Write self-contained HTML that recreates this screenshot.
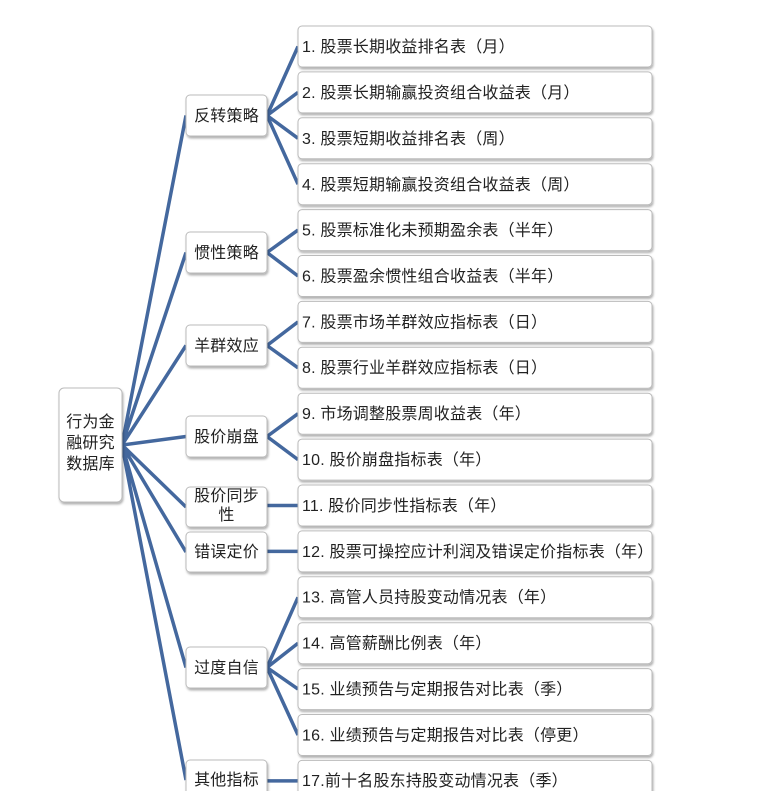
<!DOCTYPE html>
<html><head><meta charset="utf-8"><style>
html,body{margin:0;padding:0;background:#fff;width:760px;height:791px;overflow:hidden}
svg text{font-family:"Liberation Sans","Noto Sans CJK SC",sans-serif;font-size:16px;fill:#222;letter-spacing:0.2px}
</style></head><body>
<svg width="760" height="791" viewBox="0 0 760 791" xmlns="http://www.w3.org/2000/svg">
<defs><filter id="s" x="-10%" y="-10%" width="130%" height="140%"><feDropShadow dx="1" dy="2" stdDeviation="1" flood-color="#000" flood-opacity="0.3"/></filter></defs>
<g stroke="#44689e" stroke-width="3.5" fill="none">
<path d="M122 445L186 115.5M122 445L186 252.5M122 445L186 345.5M122 445L186 436.5M122 445L186 507M122 445L186 552M122 445L186 667.5M122 445L186 780"/>
<path d="M267 115.5L298 46.5M267 115.5L298 92.4M267 115.5L298 138.3M267 115.5L298 184.2"/>
<path d="M267 252.5L298 230.1M267 252.5L298 276"/>
<path d="M267 345.5L298 321.9M267 345.5L298 367.8"/>
<path d="M267 436.5L298 413.7M267 436.5L298 459.6"/>
<path d="M267 505.5L298 505.5M267 551.4L298 551.4"/>
<path d="M267 667.5L298 597.3M267 667.5L298 643.2M267 667.5L298 689.1M267 667.5L298 735"/>
<path d="M267 780.9L298 780.9"/>
</g>
<g fill="#fff" stroke="#bbb" stroke-width="1" filter="url(#s)">
<rect x="59" y="388" width="63" height="114" rx="5"/>
<rect x="186" y="95" width="81" height="41" rx="4"/>
<rect x="186" y="232" width="81" height="41" rx="4"/>
<rect x="186" y="325" width="81" height="41" rx="4"/>
<rect x="186" y="416" width="81" height="41" rx="4"/>
<rect x="186" y="487" width="81" height="40" rx="4"/>
<rect x="186" y="532" width="81" height="40" rx="4"/>
<rect x="186" y="647" width="81" height="41" rx="4"/>
<rect x="186" y="760" width="81" height="40" rx="4"/>
<rect x="298" y="26" width="354" height="41" rx="4"/>
<rect x="298" y="71.9" width="354" height="41" rx="4"/>
<rect x="298" y="117.8" width="354" height="41" rx="4"/>
<rect x="298" y="163.7" width="354" height="41" rx="4"/>
<rect x="298" y="209.6" width="354" height="41" rx="4"/>
<rect x="298" y="255.5" width="354" height="41" rx="4"/>
<rect x="298" y="301.4" width="354" height="41" rx="4"/>
<rect x="298" y="347.3" width="354" height="41" rx="4"/>
<rect x="298" y="393.2" width="354" height="41" rx="4"/>
<rect x="298" y="439.1" width="354" height="41" rx="4"/>
<rect x="298" y="485" width="354" height="41" rx="4"/>
<rect x="298" y="530.9" width="354" height="41" rx="4"/>
<rect x="298" y="576.8" width="354" height="41" rx="4"/>
<rect x="298" y="622.7" width="354" height="41" rx="4"/>
<rect x="298" y="668.6" width="354" height="41" rx="4"/>
<rect x="298" y="714.5" width="354" height="41" rx="4"/>
<rect x="298" y="760.4" width="354" height="41" rx="4"/>
</g>
<g text-anchor="middle">
<text x="90.5" y="427">行为金</text><text x="90.5" y="448">融研究</text><text x="90.5" y="469">数据库</text>
<text x="226.5" y="121">反转策略</text>
<text x="226.5" y="258">惯性策略</text>
<text x="226.5" y="351">羊群效应</text>
<text x="226.5" y="442">股价崩盘</text>
<text x="226.5" y="501">股价同步</text><text x="226.5" y="520">性</text>
<text x="226.5" y="557">错误定价</text>
<text x="226.5" y="673">过度自信</text>
<text x="226.5" y="785">其他指标</text>
</g>
<g>
<text x="302" y="52">1. 股票长期收益排名表（月）</text>
<text x="302" y="98">2. 股票长期输赢投资组合收益表（月）</text>
<text x="302" y="144">3. 股票短期收益排名表（周）</text>
<text x="302" y="190">4. 股票短期输赢投资组合收益表（周）</text>
<text x="302" y="235.5">5. 股票标准化未预期盈余表（半年）</text>
<text x="302" y="281.5">6. 股票盈余惯性组合收益表（半年）</text>
<text x="302" y="327.5">7. 股票市场羊群效应指标表（日）</text>
<text x="302" y="373">8. 股票行业羊群效应指标表（日）</text>
<text x="302" y="419">9. 市场调整股票周收益表（年）</text>
<text x="302" y="465">10. 股价崩盘指标表（年）</text>
<text x="302" y="511">11. 股价同步性指标表（年）</text>
<text x="302" y="557">12. 股票可操控应计利润及错误定价指标表（年）</text>
<text x="302" y="602.5">13. 高管人员持股变动情况表（年）</text>
<text x="302" y="648.5">14. 高管薪酬比例表（年）</text>
<text x="302" y="694.5">15. 业绩预告与定期报告对比表（季）</text>
<text x="302" y="740.5">16. 业绩预告与定期报告对比表（停更）</text>
<text x="302" y="786">17.前十名股东持股变动情况表（季）</text>
</g>
</svg>
</body></html>
